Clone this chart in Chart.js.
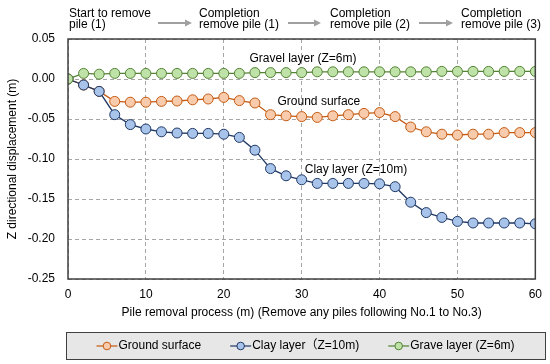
<!DOCTYPE html>
<html>
<head>
<meta charset="utf-8">
<script src="https://cdn.jsdelivr.net/npm/chart.js@4/dist/chart.umd.min.js"></script>
<style>
    html, body { margin: 0; padding: 0; background: #fff; }
    canvas { display: block; }
</style>
</head>
<body>
<canvas id="chart" width="550" height="364"></canvas>
<script>
// Pile removal distance (m)
const distance = [0, 2, 4, 6, 8, 10, 12, 14, 16, 18, 20, 22, 24, 26, 28, 30,
    32, 34, 36, 38, 40, 42, 44, 46, 48, 50, 52, 54, 56, 58, 60];

// Z directional displacement (m)
const groundSurface = [0, -0.0075, -0.0155, -0.028, -0.029, -0.029, -0.028, -0.0275, -0.026, -0.025, -0.023,
    -0.027, -0.030, -0.0446, -0.046, -0.047, -0.048, -0.046, -0.0446, -0.043, -0.042,
    -0.047, -0.060, -0.066, -0.069, -0.070, -0.069, -0.069, -0.067, -0.067, -0.067];
const clayLayer = [0, -0.0075, -0.0155, -0.0446, -0.057, -0.0625, -0.066, -0.0675, -0.068, -0.068, -0.069,
    -0.073, -0.089, -0.112, -0.121, -0.126, -0.1305, -0.1305, -0.1305, -0.1305, -0.131,
    -0.1346, -0.154, -0.167, -0.173, -0.178, -0.180, -0.180, -0.180, -0.180, -0.181];
const gravelLayer = [0, 0.007, 0.006, 0.007, 0.007, 0.007, 0.007, 0.007, 0.007, 0.007, 0.007,
    0.007, 0.008, 0.008, 0.008, 0.008, 0.009, 0.009, 0.009, 0.009, 0.009,
    0.009, 0.009, 0.009, 0.0095, 0.0095, 0.0095, 0.0095, 0.0095, 0.0095, 0.0095];

const legendLabels = ['Ground surface', 'Clay layer\uFF08Z=10m)', 'Grave layer (Z=6m)'];
const stageLabels = [
    ['Start to remove', 'pile (1)'],
    ['Completion', 'remove pile (1)'],
    ['Completion', 'remove pile (2)'],
    ['Completion', 'remove pile (3)']
];
// in-plot labels: [text, x, y]
const seriesNotes = [
    ['Gravel layer (Z=6m)', 23.3, 0.026],
    ['Ground surface', 26.9, -0.028],
    ['Clay layer (Z=10m)', 30.4, -0.113]
];

const FONT = '"Liberation Sans", Arial, "Noto Sans CJK SC", sans-serif';
const colors = [
    { line: '#c55a11', fill: '#f8cbad' },
    { line: '#1f3864', fill: '#a9c4eb' },
    { line: '#548235', fill: '#bfe2a8' }
];

function pts(values) {
    return values.map((v, i) => ({ x: distance[i], y: v }));
}

function makeSet(label, values, c, order) {
    return {
        label: label,
        data: pts(values),
        borderColor: c.line,
        backgroundColor: c.fill,
        borderWidth: 1.3,
        pointRadius: 5,
        pointBorderWidth: 1,
        pointBorderColor: c.line,
        pointBackgroundColor: c.fill,
        tension: 0,
        order: order
    };
}

const decor = {
    id: 'decor',
    afterDraw(chart) {
        const ctx = chart.ctx;
        const a = chart.chartArea;
        const xs = chart.scales.x, ys = chart.scales.y;
        ctx.save();

        // plot frame
        ctx.strokeStyle = '#404040';
        ctx.lineWidth = 1.5;
        ctx.strokeRect(a.left, a.top, a.right - a.left, a.bottom - a.top);

        ctx.font = '12px ' + FONT;
        ctx.fillStyle = '#000';
        ctx.textBaseline = 'middle';
        ctx.textAlign = 'left';

        // series notes
        seriesNotes.forEach(n => {
            ctx.fillText(n[0], xs.getPixelForValue(n[1]), ys.getPixelForValue(n[2]));
        });

        // stage headers + arrows
        const stageX = [69, 199, 330, 461];
        stageLabels.forEach((s, i) => {
            ctx.fillText(s[0], stageX[i], 14);
            ctx.fillText(s[1], stageX[i], 25);
        });
        const arrows = [[158, 192], [288, 321], [419, 453]];
        ctx.strokeStyle = '#a0a0a0';
        ctx.fillStyle = '#a0a0a0';
        ctx.lineWidth = 2;
        arrows.forEach(ar => {
            ctx.beginPath();
            ctx.moveTo(ar[0], 23);
            ctx.lineTo(ar[1] - 6, 23);
            ctx.stroke();
            ctx.beginPath();
            ctx.moveTo(ar[1], 23);
            ctx.lineTo(ar[1] - 7, 19.5);
            ctx.lineTo(ar[1] - 7, 26.5);
            ctx.closePath();
            ctx.fill();
        });

        // legend box
        const bx = 66, by = 332, bw = 479, bh = 27;
        ctx.fillStyle = '#e7e7e7';
        ctx.fillRect(bx, by, bw, bh);
        ctx.strokeStyle = '#404040';
        ctx.lineWidth = 1;
        ctx.strokeRect(bx + 0.5, by + 0.5, bw, bh);

        const symW = 22, gap = 29;
        const widths = legendLabels.map(t => symW + ctx.measureText(t).width);
        const total = widths.reduce((s, w) => s + w, 0) + gap * (widths.length - 1);
        let x = bx + (bw - total) / 2;
        const ly = by + bh / 2 + 0.5;
        legendLabels.forEach((t, i) => {
            const c = colors[i];
            ctx.strokeStyle = c.line;
            ctx.lineWidth = 1.2;
            ctx.beginPath();
            ctx.moveTo(x, ly);
            ctx.lineTo(x + symW - 1, ly);
            ctx.stroke();
            ctx.beginPath();
            ctx.arc(x + symW / 2 - 0.5, ly, 3.8, 0, Math.PI * 2);
            ctx.fillStyle = c.fill;
            ctx.fill();
            ctx.lineWidth = 1;
            ctx.stroke();
            ctx.fillStyle = '#000';
            ctx.fillText(t, x + symW, ly);
            x += widths[i] + gap;
        });

        ctx.restore();
    }
};

function gridOpts() {
    return { color: '#a6a6a6', lineWidth: 1, drawTicks: false };
}
function borderOpts() {
    return { display: false, dash: [4, 3] };
}

new Chart(document.getElementById('chart'), {
    type: 'line',
    data: {
        datasets: [
            makeSet(legendLabels[0], groundSurface, colors[0], 2),
            makeSet(legendLabels[1], clayLayer, colors[1], 1),
            makeSet(legendLabels[2], gravelLayer, colors[2], 0)
        ]
    },
    options: {
        responsive: false,
        animation: false,
        devicePixelRatio: 1,
        layout: { padding: { top: 39, right: 11, bottom: 0, left: 0 } },
        plugins: {
            legend: { display: false },
            tooltip: { enabled: false }
        },
        scales: {
            x: {
                type: 'linear',
                min: 0,
                max: 60,
                afterFit: s => { s.height = 85; },
                ticks: { stepSize: 10, padding: 8, color: '#000', font: { size: 12, family: FONT } },
                grid: gridOpts(),
                border: borderOpts(),
                title: {
                    display: true,
                    text: 'Pile removal process (m) (Remove any piles following No.1 to No.3)',
                    color: '#000',
                    font: { size: 12, family: FONT },
                    padding: { top: 0, bottom: 44 }
                }
            },
            y: {
                min: -0.25,
                max: 0.05,
                afterFit: s => { s.width = 68; },
                ticks: {
                    stepSize: 0.05,
                    padding: 13,
                    color: '#000',
                    font: { size: 12, family: FONT },
                    callback: v => (Math.abs(v) < 1e-9 ? 0 : v).toFixed(2)
                },
                grid: gridOpts(),
                border: borderOpts(),
                title: {
                    display: true,
                    text: 'Z directional displacement (m)',
                    color: '#000',
                    font: { size: 12, family: FONT },
                    padding: { top: 5, bottom: 0 }
                }
            }
        }
    },
    plugins: [decor]
});
</script>
</body>
</html>
